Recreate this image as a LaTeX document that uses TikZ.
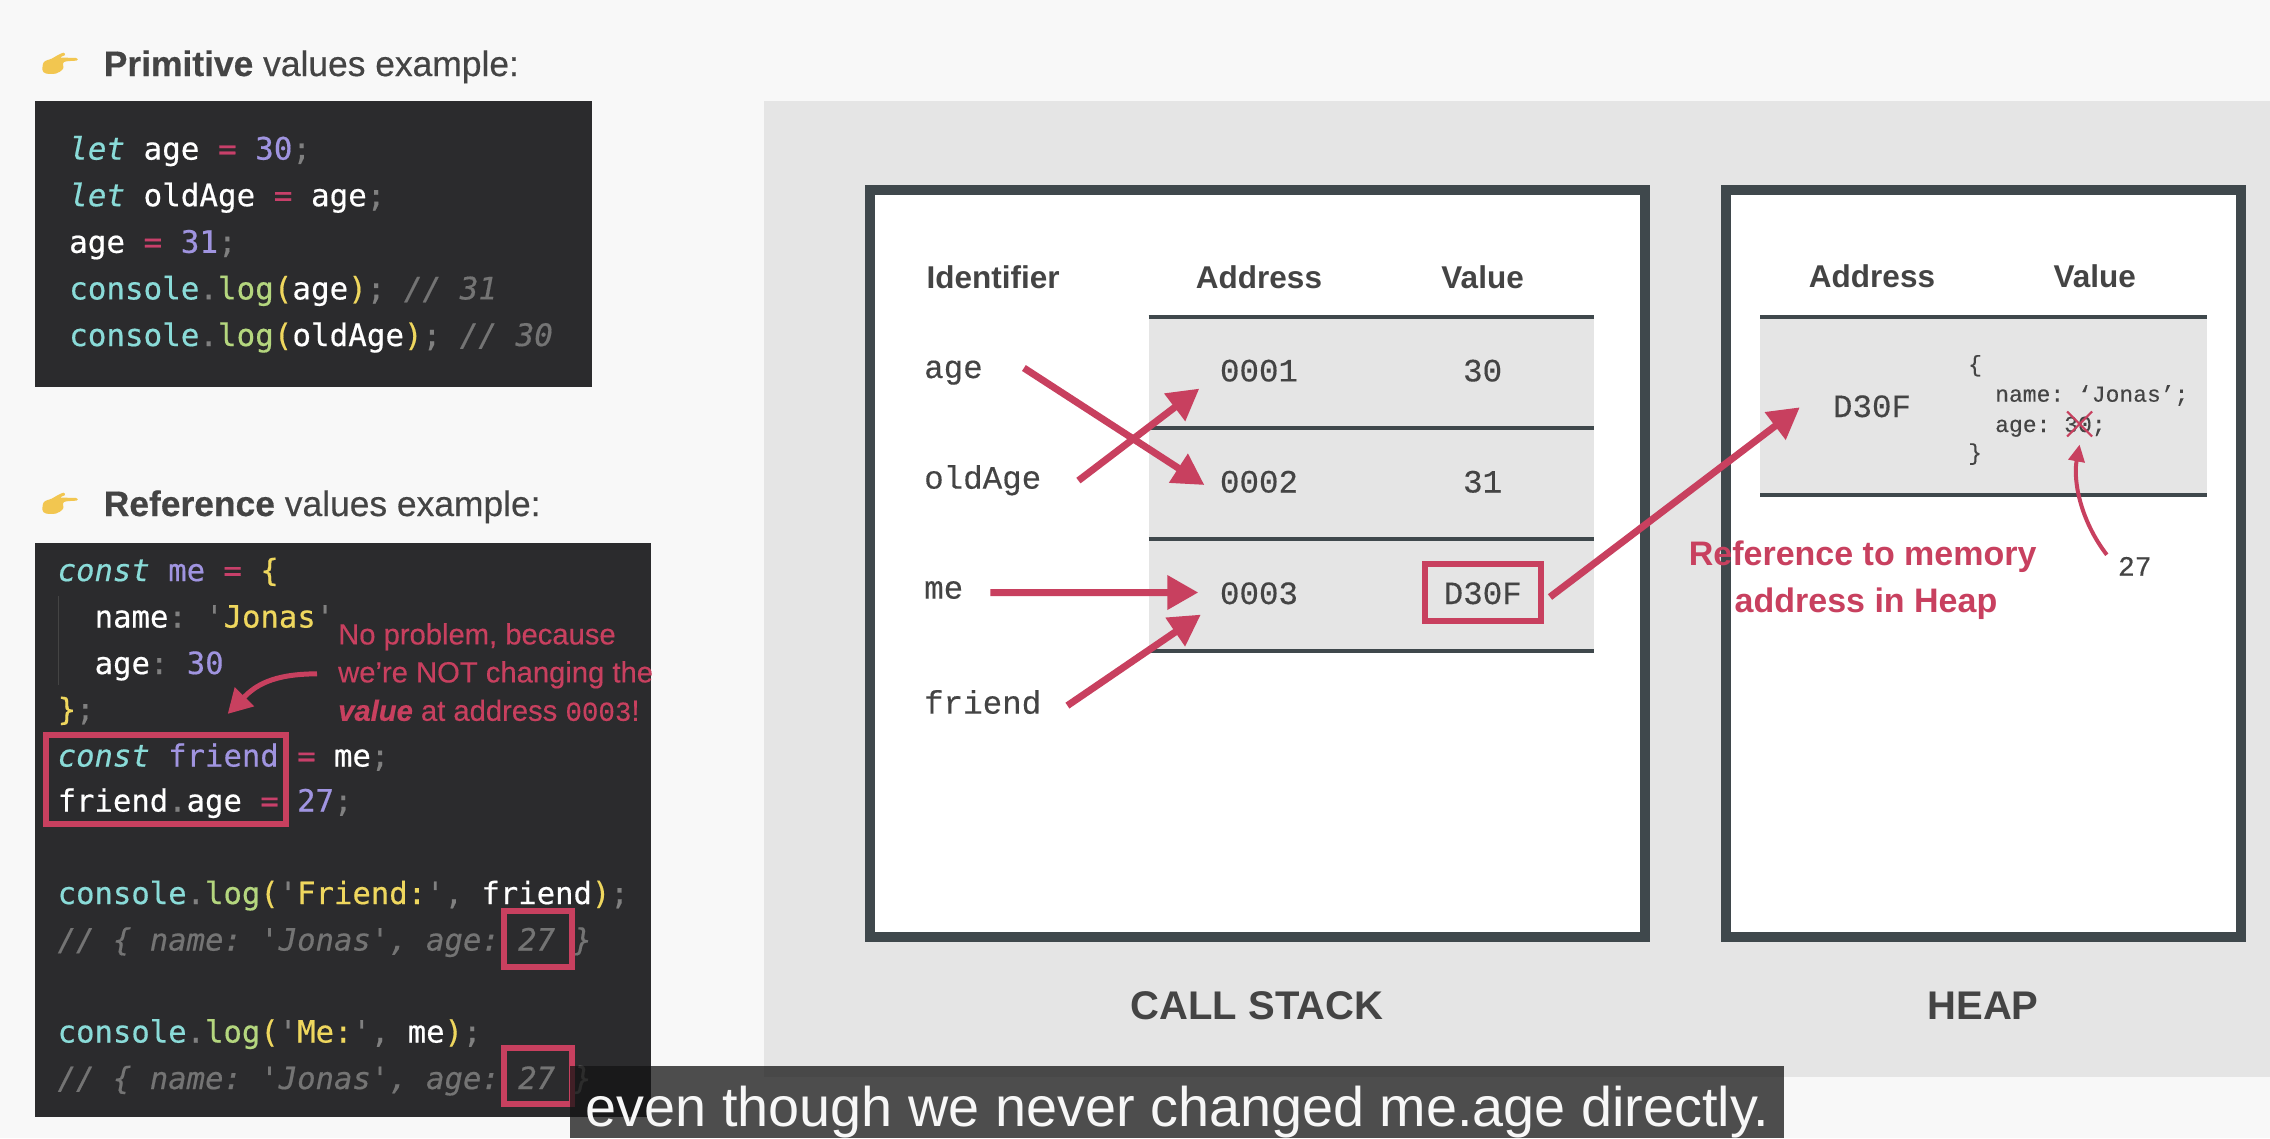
\documentclass[tikz,border=0pt]{standalone}
\usepackage{fontspec}
\usetikzlibrary{arrows.meta,calc,shapes.misc}
\setmainfont{Liberation Sans}
\newfontfamily\medfont[FakeBold=0.4]{Liberation Sans}
\newfontfamily\codefont[FakeBold=0.5]{DejaVu Sans Mono}
\newfontfamily\memfont[FakeBold=0.3]{Liberation Mono}
\AtBeginDocument{\frenchspacing}
\definecolor{pagebg}{HTML}{F8F8F8}
\definecolor{panel}{HTML}{E5E5E5}
\definecolor{frameclr}{HTML}{3F484C}
\definecolor{inkclr}{HTML}{444444}
\definecolor{redclr}{HTML}{C8405F}
\definecolor{codebg}{HTML}{2B2B2D}
\definecolor{ckw}{HTML}{8ADBD8}
\definecolor{cop}{HTML}{C8406A}
\definecolor{cnum}{HTML}{A094E0}
\definecolor{cyel}{HTML}{EFD75E}
\definecolor{cgrn}{HTML}{B4D67E}
\definecolor{cpun}{HTML}{808080}
\definecolor{ccom}{HTML}{747474}
\definecolor{handclr}{HTML}{F2C650}
\newcommand{\kw}[1]{{\color{ckw}#1}}
\newcommand{\kwi}[1]{{\color{ckw}\itshape #1}}
\newcommand{\opr}[1]{{\color{cop}#1}}
\newcommand{\numb}[1]{{\color{cnum}#1}}
\newcommand{\yel}[1]{{\color{cyel}#1}}
\newcommand{\grn}[1]{{\color{cgrn}#1}}
\newcommand{\pun}[1]{{\color{cpun}#1}}
\newcommand{\comm}[1]{{\color{ccom}\itshape #1}}
\tikzset{
  codeline/.style={anchor=base west,inner sep=0pt,text=white,font=\codefont\fontsize{30.9}{36}\selectfont},
  codelineb/.style={anchor=base west,inner sep=0pt,text=white,font=\codefont\fontsize{30.6}{36}\selectfont},
  headline/.style={anchor=base west,inner sep=0pt,text=inkclr,font=\medfont\fontsize{35.4}{42}\selectfont},
  colhead/.style={anchor=base,inner sep=0pt,text=inkclr,font=\bfseries\fontsize{31.5}{38}\selectfont},
  memtext/.style={inner sep=0pt,text=inkclr,text height=24pt,text depth=8pt,font=\memfont\fontsize{32.5}{38}\selectfont},
  objtext/.style={anchor=base west,inner sep=0pt,text=inkclr,font=\memfont\fontsize{23}{28}\selectfont},
  annot/.style={anchor=base west,inner sep=0pt,text=redclr,font=\medfont\fontsize{29.2}{34}\selectfont},
  reflabel/.style={anchor=base,inner sep=0pt,text=redclr,font=\bfseries\fontsize{34}{40}\selectfont},
  zonelabel/.style={anchor=base,inner sep=0pt,text=inkclr,font=\bfseries\fontsize{40}{48}\selectfont},
  frameline/.style={draw=frameclr,line width=4pt},
  redbox/.style={draw=redclr,line width=6pt,inner sep=0pt},
  bigarrow/.style={draw=redclr,line width=7pt,-{Triangle[length=31pt,width=33pt]}},
}
\begin{document}
\begin{tikzpicture}[x=1pt,y=-1pt]
\useasboundingbox (0,0) rectangle (2270,1138);
\fill[pagebg] (0,0) rectangle (2270,1138);
\fill[panel] (764,101) rectangle (2270,1077);

% hand icons
\foreach \dy in {0,440}{
  \fill[handclr,yshift=-\dy pt] plot[smooth cycle,tension=.55] coordinates
    {(42.5,70) (44,62) (52,58.5) (58,55) (63.5,52.7) (65,55) (61,57.5) (76,58) (76.5,60.5) (64,62) (63,69) (56,73.5) (46,73.5)};
}
\node[headline] (h1) at (103.6,76) {{\bfseries Primitive} values example:};
\node[headline] (h2) at (103.6,516) {{\bfseries Reference} values example:};

% code box 1
\fill[codebg] (34.5,101) rectangle (591.5,387);
\node[codeline] (p1) at (69,159.6) {\kwi{let} age \opr{=} \numb{30}\pun{;}};
\node[codeline] (p2) at (69,206.2) {\kwi{let} oldAge \opr{=} age\pun{;}};
\node[codeline] (p3) at (69,252.8) {age \opr{=} \numb{31}\pun{;}};
\node[codeline] (p4) at (69,299.4) {\kw{console}\pun{.}\grn{log}\yel{(}age\yel{)}\pun{;} \comm{// 31}};
\node[codeline] (p5) at (69,346) {\kw{console}\pun{.}\grn{log}\yel{(}oldAge\yel{)}\pun{;} \comm{// 30}};

% code box 2
\fill[codebg] (34.5,542.5) rectangle (651,1116.5);
\draw[line width=1pt,color=inkclr] (58,596) -- (58,685);
\node[codelineb] (r1) at (57.5,581) {\kwi{const} {\color{cnum}me} \opr{=} \yel{\{}};
\node[codelineb] (r2) at (94.5,627.5) {name\pun{:} \pun{'}\yel{Jonas}\pun{'}};
\node[codelineb] (r3) at (94.5,674) {age\pun{:} \numb{30}};
\node[codelineb] (r4) at (57.5,720) {\yel{\}}\pun{;}};
\node[codelineb] (r5) at (57.5,766.5) {\kwi{const} {\color{cnum}friend} \opr{=} me\pun{;}};
\node[codelineb] (r6) at (57.5,811.5) {friend\pun{.}age \opr{=} \numb{27}\pun{;}};
\node[codelineb] (r7) at (57.5,904) {\kw{console}\pun{.}\grn{log}\yel{(}\pun{'}\yel{Friend:}\pun{'}\pun{,} friend\yel{)}\pun{;}};
\node[codelineb] (r8) at (57.5,950.5) {\comm{// \{ name: 'Jonas', age: 27 \}}};
\node[codelineb] (r9) at (57.5,1042.5) {\kw{console}\pun{.}\grn{log}\yel{(}\pun{'}\yel{Me:}\pun{'}\pun{,} me\yel{)}\pun{;}};
\node[codelineb] (r10) at (57.5,1089) {\comm{// \{ name: 'Jonas', age: 27 \}}};

\node[redbox,minimum width=240pt,minimum height=89pt] (friendbox) at (166,779) {};
\node[redbox,minimum width=68pt,minimum height=56pt] (age1box) at (538,939) {};
\node[redbox,minimum width=68pt,minimum height=56pt] (age2box) at (538,1076) {};

\node[annot] (a1) at (338,644.4) {No problem, because};
\node[annot] (a2) at (338,682.4) {we’re NOT changing the};
\node[annot] (a3) at (338,720.8) {\textbf{\itshape value} at address {\memfont\fontsize{27.5}{34}\selectfont 0003}!};
\draw[draw=redclr,line width=5pt,-{Triangle[length=24pt,width=26pt]}]
  ($(a2.west)+(-21,-1)$) .. controls +(-45,0) and (255,686) .. ($(friendbox.north)+(61.7,-17.6)$);

% call stack
\draw[draw=frameclr,line width=10pt,fill=white] (870,190) rectangle (1644.5,937);
\draw[draw=frameclr,line width=10pt,fill=white] (1726,190) rectangle (2241,937);

\fill[panel] (1148.5,317) rectangle (1594,651);
\draw[frameline] (1148.5,317) -- (1594,317);
\draw[frameline] (1148.5,428) -- (1594,428);
\draw[frameline] (1148.5,539) -- (1594,539);
\draw[frameline] (1148.5,651) -- (1594,651);

\node[colhead,anchor=base west] (idh) at (926.5,288) {Identifier};
\node[colhead] (adh) at (1259,288) {Address};
\node[colhead] (vah) at (1482.6,288) {Value};

\node[memtext,anchor=base west] (age) at (924,378) {age};
\node[memtext,anchor=base west] (oldage) at (924,488.6) {oldAge};
\node[memtext,anchor=base west] (me) at (924,598.6) {me};
\node[memtext,anchor=base west] (friend) at (924,713.6) {friend};

\node[memtext,anchor=base] (addr1) at (1259,381.4) {0001};
\node[memtext,anchor=base] (addr2) at (1259,492.5) {0002};
\node[memtext,anchor=base] (addr3) at (1259,604) {0003};
\node[memtext,anchor=base] (val1) at (1482.6,381.4) {30};
\node[memtext,anchor=base] (val2) at (1482.6,492.5) {31};
\node[memtext,redbox,text=inkclr,text height=24pt,text depth=.5pt,minimum width=116.5pt,minimum height=56.5pt] (dval) at (1482.75,592.25) {D30F};

\node[zonelabel] (stacklabel) at (1257,1019) {CALL STACK};

% heap
\fill[panel] (1760,316.5) rectangle (2206.7,495);
\draw[frameline] (1760,316.5) -- (2206.7,316.5);
\draw[frameline] (1760,495) -- (2206.7,495);
\node[colhead] (hadh) at (1872,287.5) {Address};
\node[colhead] (hvah) at (2094.8,287.5) {Value};
\node[memtext,anchor=base] (haddr) at (1872,417) {D30F};
\node[objtext] (o1) at (1968,371.7) {\{};
\node[objtext] (o2) at (1995,401.7) {name: ‘Jonas’;};
\node[objtext] (o3) at (1995,432) {age: 30;};
\node[objtext] (o4) at (1968,460) {\}};
\node[cross out,draw=redclr,line width=2pt,inner sep=0pt,outer sep=0pt,minimum width=25pt,minimum height=25pt] (xmark) at (2079.6,424) {};
\node[anchor=base west,inner sep=0pt,text=inkclr,font=\memfont\fontsize{28}{34}\selectfont] (new27) at (2117.8,575.7) {27};
\draw[draw=redclr,line width=4pt,-{Triangle[length=17pt,width=16pt]}]
  ($(new27.north west)+(-11,-2)$) .. controls (2080,520) and (2073,480) .. ($(xmark.south)+(0,8)$);

\node[reflabel] (ref1) at (1862.7,565) {Reference to memory};
\node[reflabel] (ref2) at (1866,612.7) {address in Heap};
\node[zonelabel] (heaplabel) at (1983,1019) {HEAP};

% arrows
\draw[bigarrow] ($(age.east)+(41,-2)$) -- ($(addr2.west)+(-15.4,0.5)$);
\draw[bigarrow] ($(oldage.east)+(37,0)$) -- ($(addr1.west)+(-20.5,15.2)$);
\draw[bigarrow] ($(me.east)+(27,2)$) -- ($(addr3.west)+(-21.5,-3.5)$);
\draw[bigarrow] ($(friend.east)+(26,0)$) -- ($(addr3.west)+(-19,18.6)$);
\draw[bigarrow] ($(dval.east)+(6,4.75)$) -- ($(haddr.west)+(-33,-1.7)$);

% caption
\fill[black!92,opacity=.75] (570,1066) rectangle (1784,1138);
\node[anchor=base,inner sep=0pt,text=white!97!black,font=\fontsize{55.8}{66}\selectfont] (caption) at (1177.7,1126) {even though we never changed me.age directly.};
\end{tikzpicture}
\end{document}
